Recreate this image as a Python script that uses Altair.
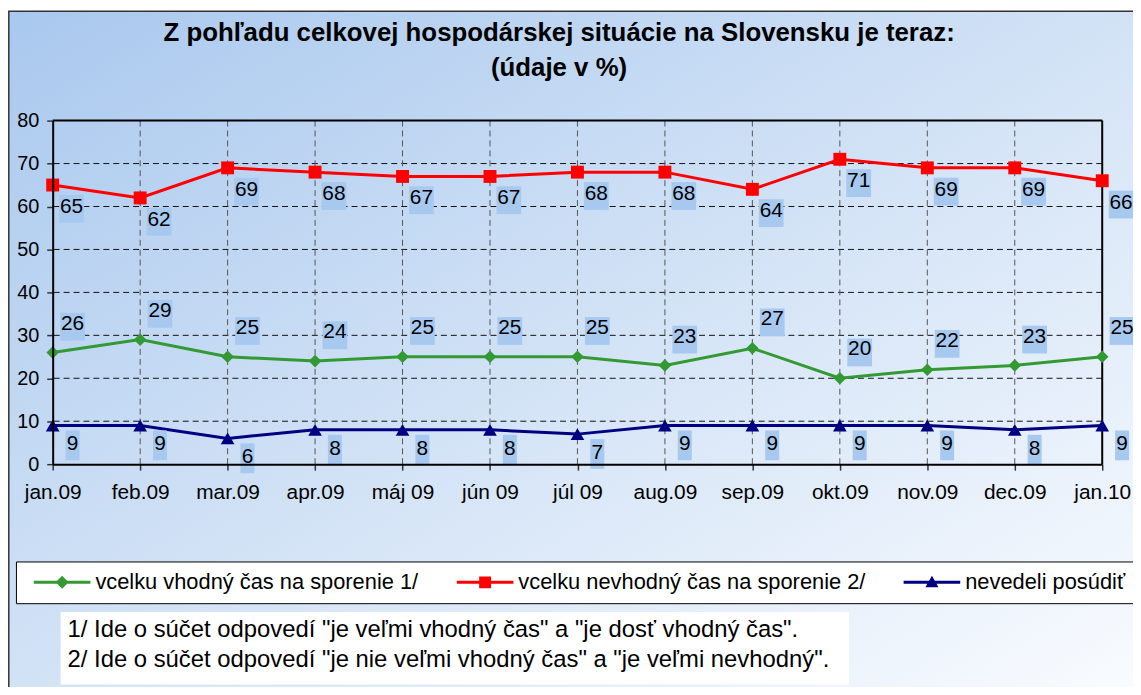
import altair as alt
import pandas as pd

FONT = "Liberation Sans"

MONTHS = ["jan.09", "feb.09", "mar.09", "apr.09", "máj 09", "jún 09", "júl 09",
          "aug.09", "sep.09", "okt.09", "nov.09", "dec.09", "jan.10"]
SERIES = ["vcelku vhodný čas na sporenie 1/",
          "vcelku nevhodný čas na sporenie 2/",
          "nevedeli posúdiť"]
GREEN_VALUES = [26, 29, 25, 24, 25, 25, 25, 23, 27, 20, 22, 23, 25]
RED_VALUES = [65, 62, 69, 68, 67, 67, 68, 68, 64, 71, 69, 69, 66]
BLUE_VALUES = [9, 9, 6, 8, 8, 8, 7, 9, 9, 9, 9, 8, 9]
COLORS = ["#339933", "#ff0000", "#000080"]
Y_TICKS = [0, 10, 20, 30, 40, 50, 60, 70, 80]
TITLE_LINES = ["Z pohľadu celkovej hospodárskej situácie na Slovensku je teraz:",
               "(údaje v %)"]
FOOTNOTES = ['1/ Ide o súčet odpovedí "je veľmi vhodný čas" a  "je dosť vhodný čas".',
             '2/ Ide o súčet odpovedí "je nie veľmi vhodný čas" a "je veľmi nevhodný".']

rows = []
for s, vals in zip(SERIES, [GREEN_VALUES, RED_VALUES, BLUE_VALUES]):
    for m, v in zip(MONTHS, vals):
        rows.append({"month": m, "series": s, "value": v, "label": str(v)})
df = pd.DataFrame(rows)

W, H = 1057, 346
PAD_L, PAD_T = 45, 111
PAD_R = 1133 - PAD_L - W
PAD_B = 679 - PAD_T - H

# legend symbols: line with marker (custom paths, unit = half width)
LEG_GREEN = "M-1,-0.053H-0.177L0,-0.23L0.177,-0.053H1V0.053H0.177L0,0.23L-0.177,0.053H-1Z"
LEG_RED = "M-1,-0.053H-0.21V-0.21H0.21V-0.053H1V0.053H0.21V0.21H-0.21V0.053H-1Z"
LEG_BLUE = "M-1,-0.053H-0.102L0,-0.23L0.102,-0.053H1V0.053H0.163L0.23,0.17H-0.23L-0.163,0.053H-1Z"
BOX2 = "M-0.89,-1H0.89V1H-0.89Z"
BOX1 = "M-0.47,-1H0.47V1H-0.47Z"
BOX_COLOR = "#a7c9ef"

x_enc = alt.X("month:N", sort=MONTHS,
              scale=alt.Scale(type="point", padding=0),
              axis=alt.Axis(title=None, labelAngle=0, labelFont=FONT, labelFontSize=21,
                            labelColor="black", labelPadding=12, tickSize=6,
                            tickColor="#333333", tickWidth=1.5, domainColor="black",
                            domainWidth=2, grid=False, zindex=1))
y_enc = alt.Y("value:Q", scale=alt.Scale(domain=[0, 80], nice=False, zero=True),
              axis=alt.Axis(title=None, values=Y_TICKS, labelFont=FONT, labelFontSize=20,
                            labelColor="black", labelPadding=8, tickSize=6,
                            tickColor="#333333", tickWidth=1.5, domainColor="black",
                            domainWidth=2, grid=False, zindex=1))

base = alt.Chart(df)
one = alt.Data(values=[{}])

bg = alt.Chart(one).mark_rect(
    fill=alt.LinearGradient(gradient="linear",
                            stops=[alt.GradientStop(color="#a9c8ee", offset=0),
                                   alt.GradientStop(color="#d3e3f6", offset=0.5),
                                   alt.GradientStop(color="#fafcff", offset=1)],
                            x1=0, y1=0, x2=1, y2=1),
    stroke="#333333", strokeWidth=1.5,
).encode(x=alt.value(-44.2), x2=alt.value(W + PAD_R + 20),
         y=alt.value(-110.2), y2=alt.value(H + PAD_B + 20))

title1 = alt.Chart(one).mark_text(
    align="center", baseline="middle", font=FONT, fontSize=26, fontWeight="bold",
    color="black").encode(x=alt.value(510), y=alt.value(-88), text=alt.value(TITLE_LINES[0]))
title2 = alt.Chart(one).mark_text(
    align="center", baseline="middle", font=FONT, fontSize=26, fontWeight="bold",
    color="black").encode(x=alt.value(510), y=alt.value(-53), text=alt.value(TITLE_LINES[1]))

# gridlines drawn from the tick values through the shared scales
hgrid = alt.Chart(pd.DataFrame({"value": Y_TICKS[1:-1]})).mark_rule(
    color="#111111", strokeDash=[6, 4], strokeWidth=1).encode(y=y_enc)
vgrid = alt.Chart(pd.DataFrame({"month": MONTHS[1:-1]})).mark_rule(
    color="#555555", strokeDash=[6, 4], strokeWidth=1).encode(x=x_enc)
top_border = alt.Chart(pd.DataFrame({"value": [Y_TICKS[-1]]})).mark_rule(
    color="black", strokeWidth=2).encode(y=y_enc)
right_border = alt.Chart(pd.DataFrame({"month": [MONTHS[-1]]})).mark_rule(
    color="black", strokeWidth=2).encode(x=x_enc)

note_box = alt.Chart(one).mark_rect(fill="white").encode(
    x=alt.value(8), x2=alt.value(802), y=alt.value(495), y2=alt.value(568))
note1 = alt.Chart(one).mark_text(
    align="left", baseline="middle", font=FONT, fontSize=24, color="black").encode(
    x=alt.value(15), y=alt.value(513), text=alt.value(FOOTNOTES[0]))
note2 = alt.Chart(one).mark_text(
    align="left", baseline="middle", font=FONT, fontSize=24, color="black").encode(
    x=alt.value(15), y=alt.value(543), text=alt.value(FOOTNOTES[1]))

layers = [bg, title1, title2, hgrid, vgrid, top_border, right_border, note_box, note1, note2]

# invisible layer that carries the legend
leg = dict(title=None, zindex=1, orient="none", legendX=-37, legendY=444,
           direction="horizontal", columns=3)
legend_layer = base.mark_point(filled=True, opacity=0, size=10).encode(
    x=x_enc, y=y_enc,
    color=alt.Color("series:N", scale=alt.Scale(domain=SERIES, range=COLORS),
                    legend=alt.Legend(**leg)),
    shape=alt.Shape("series:N", scale=alt.Scale(domain=SERIES, range=[LEG_GREEN, LEG_RED, LEG_BLUE]),
                    legend=alt.Legend(**leg)),
)
layers.append(legend_layer)

specs = [
    (SERIES[0], COLORS[0], "diamond", 160, (20, -29), (20, -26), BOX2, 784),
    (SERIES[1], COLORS[1], "square", 169, (19, 22), (19, 24), BOX2, 784),
    (SERIES[2], COLORS[2], "triangle-up", 190, (20, 19), (20, 20), BOX1, 900),
]
for s, c, shp, sz, tdxy, bdxy, bpath, bsize in specs:
    sub = base.transform_filter(alt.datum.series == s)
    layers.append(sub.mark_line(color=c, strokeWidth=3).encode(x=x_enc, y=y_enc))
for s, c, shp, sz, tdxy, bdxy, bpath, bsize in specs:
    sub = base.transform_filter(alt.datum.series == s)
    layers.append(sub.mark_point(shape=shp, size=sz, filled=True, color=c, opacity=1).encode(
        x=x_enc, y=y_enc))
for s, c, shp, sz, tdxy, bdxy, bpath, bsize in specs:
    sub = base.transform_filter(alt.datum.series == s)
    layers.append(sub.mark_point(shape=bpath, size=bsize, filled=True, color=BOX_COLOR,
                                 opacity=1, strokeWidth=0,
                                 xOffset=bdxy[0], yOffset=bdxy[1]).encode(x=x_enc, y=y_enc))
    layers.append(sub.mark_text(font=FONT, fontSize=21, color="black", baseline="middle",
                                align="center", dx=tdxy[0], dy=tdxy[1]).encode(
        x=x_enc, y=y_enc, text="label:N"))

chart = alt.layer(*layers).properties(
    width=W, height=H,
    autosize=alt.AutoSizeParams(type="none"),
    padding={"left": PAD_L, "top": PAD_T, "right": PAD_R, "bottom": PAD_B},
).configure(background="white").configure_view(stroke=None).configure_legend(
    labelFont=FONT, labelFontSize=22, labelColor="black", labelLimit=600,
    labelOffset=5, symbolOffset=8, columnPadding=30, symbolSize=3249,
    symbolStrokeWidth=0, symbolOpacity=1, strokeColor="black", fillColor="white",
    padding=10, clipHeight=22,
)

chart.save("out.html", embed_options={"renderer": "svg", "actions": False})
